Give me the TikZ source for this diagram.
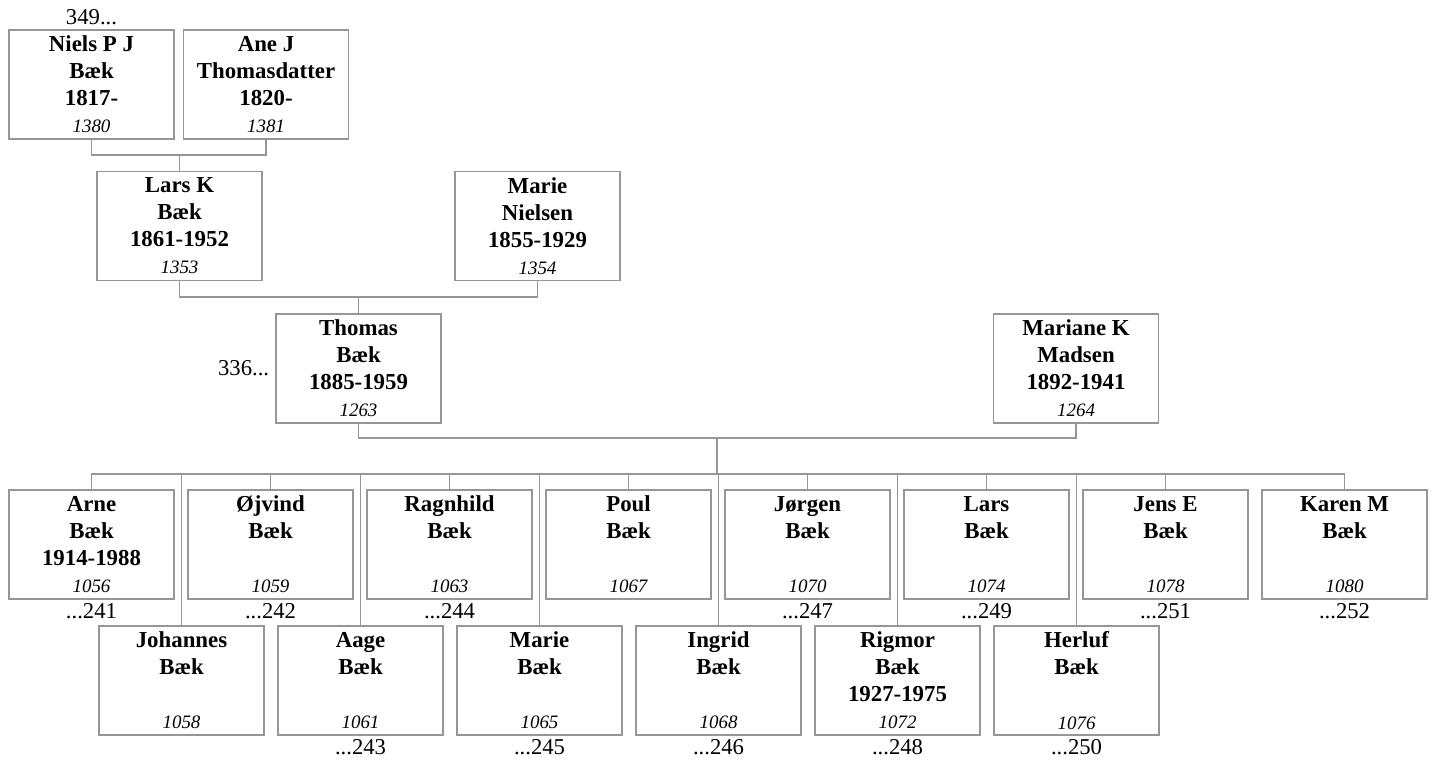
\documentclass[tikz,border=0pt]{standalone}
\usepackage{fontspec}
\setmainfont{Liberation Serif}
\usetikzlibrary{positioning}
\definecolor{linegray}{RGB}{150,150,150}
\newcommand{\pid}[1]{{\normalfont\itshape\fontsize{10.8}{15.4}\selectfont #1}}

\begin{document}
\begin{tikzpicture}[
  person/.style={draw=linegray, line width=0.6pt, align=center,
                 font=\fontsize{13}{15.4}\selectfont\bfseries,
                 minimum width=3.3cm, minimum height=2.18cm, inner sep=2pt},
  link/.style={draw=linegray, line width=0.6pt},
  ref/.style={font=\fontsize{12.9}{15}\selectfont, inner sep=0pt}
]
  \useasboundingbox (0,0) rectangle (28.64,-15.22);

  % ancestors
  \node[person] (niels)   at (1.83,-1.69)  {Niels P J\\Bæk\\1817-\\\pid{1380}};
  \node[person] (ane)     at (5.32,-1.69)  {Ane J\\Thomasdatter\\1820-\\\pid{1381}};
  \node[person] (lars)    at (3.59,-4.52)  {Lars K\\Bæk\\1861-1952\\\pid{1353}};
  \node[person] (marie)   at (10.75,-4.52) {Marie\\Nielsen\\1855-1929\\\pid{1354}};
  \node[person] (thomas)  at (7.17,-7.37)  {Thomas\\Bæk\\1885-1959\\\pid{1263}};
  \node[person] (mariane) at (21.52,-7.37) {Mariane K\\Madsen\\1892-1941\\\pid{1264}};
  \node[ref, above=0.08cm of niels] {349...};
  \node[ref, left=0.12cm of thomas] {336...};

  \coordinate (na)   at (3.59,-3.10);
  \coordinate (lm)   at (7.17,-5.94);
  \coordinate (tm)   at (14.34,-8.76);
  \coordinate (kids) at (14.34,-9.48);

  \draw[link] (niels.south) |- (na) -| (ane.south);
  \draw[link] (na) -- (lars.north);
  \draw[link] (lars.south) |- (lm) -| (marie.south);
  \draw[link] (lm) -- (thomas.north);
  \draw[link] (thomas.south) |- (tm) -| (mariane.south);
  \draw[link] (tm) -- (kids);

  % children, upper row
  \node[person] (arne)     at (1.83,-10.89)  {Arne\\Bæk\\1914-1988\\\pid{1056}};
  \node[person] (ojvind)   at (5.41,-10.89)  {Øjvind\\Bæk\\\strut\\\pid{1059}};
  \node[person] (ragnhild) at (8.99,-10.89)  {Ragnhild\\Bæk\\\strut\\\pid{1063}};
  \node[person] (poul)     at (12.57,-10.89) {Poul\\Bæk\\\strut\\\pid{1067}};
  \node[person] (jorgen)   at (16.15,-10.89) {Jørgen\\Bæk\\\strut\\\pid{1070}};
  \node[person] (larsb)    at (19.73,-10.89) {Lars\\Bæk\\\strut\\\pid{1074}};
  \node[person] (jens)     at (23.31,-10.89) {Jens E\\Bæk\\\strut\\\pid{1078}};
  \node[person] (karen)    at (26.89,-10.89) {Karen M\\Bæk\\\strut\\\pid{1080}};

  % children, lower row
  \node[person] (johannes) at (3.63,-13.61)  {Johannes\\Bæk\\\strut\\\pid{1058}};
  \node[person] (aage)     at (7.21,-13.61)  {Aage\\Bæk\\\strut\\\pid{1061}};
  \node[person] (marieb)   at (10.79,-13.61) {Marie\\Bæk\\\strut\\\pid{1065}};
  \node[person] (ingrid)   at (14.37,-13.61) {Ingrid\\Bæk\\\strut\\\pid{1068}};
  \node[person] (rigmor)   at (17.95,-13.61) {Rigmor\\Bæk\\1927-1975\\\pid{1072}};
  \node[person] (herluf)   at (21.53,-13.61) {Herluf\\Bæk\\\strut\\\pid{1076}};

  \draw[link] (arne.north) |- (kids) -| (karen.north);
  \draw[link] (ojvind.north)   -- (ojvind.north |- kids);
  \draw[link] (ragnhild.north) -- (ragnhild.north |- kids);
  \draw[link] (poul.north)     -- (poul.north |- kids);
  \draw[link] (jorgen.north)   -- (jorgen.north |- kids);
  \draw[link] (larsb.north)    -- (larsb.north |- kids);
  \draw[link] (jens.north)     -- (jens.north |- kids);
  \draw[link] (johannes.north) -- (johannes.north |- kids);
  \draw[link] (aage.north)     -- (aage.north |- kids);
  \draw[link] (marieb.north)   -- (marieb.north |- kids);
  \draw[link] (ingrid.north)   -- (ingrid.north |- kids);
  \draw[link] (rigmor.north)   -- (rigmor.north |- kids);
  \draw[link] (herluf.north)   -- (herluf.north |- kids);

  \node[ref, below=0.08cm of arne]     {...241};
  \node[ref, below=0.08cm of ojvind]   {...242};
  \node[ref, below=0.08cm of ragnhild] {...244};
  \node[ref, below=0.08cm of jorgen]   {...247};
  \node[ref, below=0.08cm of larsb]    {...249};
  \node[ref, below=0.08cm of jens]     {...251};
  \node[ref, below=0.08cm of karen]    {...252};
  \node[ref, below=0.08cm of aage]     {...243};
  \node[ref, below=0.08cm of marieb]   {...245};
  \node[ref, below=0.08cm of ingrid]   {...246};
  \node[ref, below=0.08cm of rigmor]   {...248};
  \node[ref, below=0.08cm of herluf]   {...250};
\end{tikzpicture}
\end{document}
